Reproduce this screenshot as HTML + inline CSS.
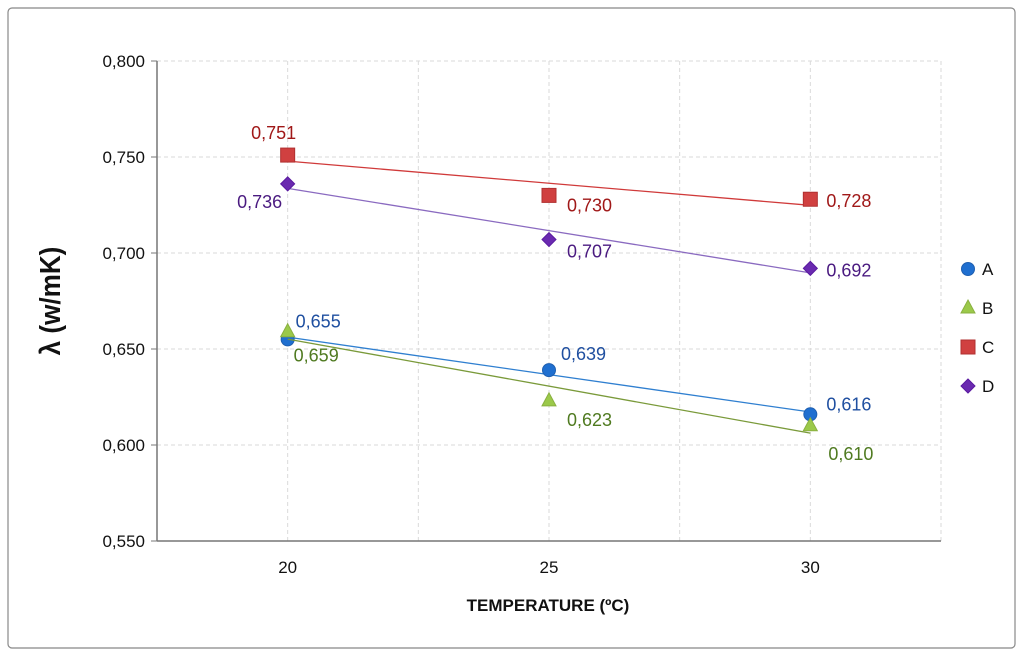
<!DOCTYPE html>
<html><head><meta charset="utf-8"><style>
body{margin:0;background:#fff;width:1024px;height:657px;overflow:hidden}
svg{font-family:"Liberation Sans",sans-serif}
</style></head><body>
<svg id="chart" width="1024" height="657">
<rect x="8" y="8" width="1007" height="640" rx="4" fill="#fff" stroke="#888" stroke-width="1.2"/>
<g id="grid"></g><g id="axes"></g><g id="series"></g><g id="legend"></g>
<text x="548" y="611" text-anchor="middle" font-size="17" font-weight="bold" fill="#111">TEMPERATURE (ºC)</text>
<text transform="translate(60,301) rotate(-90) scale(0.9,1)" text-anchor="middle" font-size="29" font-weight="bold" fill="#111">λ (w/mK)</text>
</svg>
<script>
const temps=[20,25,30];
const seriesNames=["A","B","C","D"];
const valuesA=[0.655,0.639,0.616];
const valuesB=[0.659,0.623,0.610];
const valuesC=[0.751,0.730,0.728];
const valuesD=[0.736,0.707,0.692];
const yTicks=[0.55,0.6,0.65,0.7,0.75,0.8];
const xTicks=[20,25,30];
const xGrid=[17.5,20,22.5,25,27.5,30,32.5];
const NS="http://www.w3.org/2000/svg";
const L=157,R=941,T=61,B=541;
const xs=v=>L+(v-17.5)/15*(R-L);
const ys=v=>B-(v-0.55)/0.25*(B-T);
function mk(tag,at,parent){const e=document.createElementNS(NS,tag);for(const k in at)e.setAttribute(k,at[k]);parent.appendChild(e);return e;}
const grid=document.getElementById('grid'),axes=document.getElementById('axes'),ser=document.getElementById('series'),leg=document.getElementById('legend');
yTicks.forEach(t=>{
 if(t>0.55){const g=mk('line',{x1:L,x2:R,y1:ys(t),y2:ys(t),stroke:'#dadada','stroke-dasharray':'4,3'},grid);
 }
 const tk=mk('line',{x1:L-6,x2:L,y1:ys(t),y2:ys(t),stroke:'#777'},axes);
 
 const tx=mk('text',{x:L-12,y:ys(t)+6,'text-anchor':'end','font-size':17,fill:'#111'},axes);
 tx.textContent=t.toFixed(3).replace('.',',');
 
});
xGrid.forEach(v=>{if(v>17.5){const g=mk('line',{x1:xs(v),x2:xs(v),y1:T,y2:B,stroke:'#dadada','stroke-dasharray':'4,3'},grid);
 }});
xTicks.forEach(v=>{const tx=mk('text',{x:xs(v),y:B+32,'text-anchor':'middle','font-size':17,fill:'#111'},axes);
 tx.textContent=v;});
let a=mk('line',{x1:L,x2:L,y1:T,y2:B,stroke:'#777','stroke-width':1.5},axes);

a=mk('line',{x1:L,x2:R,y1:B,y2:B,stroke:'#777','stroke-width':1.5},axes);

const conf=[
 {v:valuesA,fill:'#1f6fd0',stroke:'#1f5fb0',line:'#2f7fd0',lab:'#1f4fa0',shape:'circle',off:[[8,-12,'start'],[12,-10,'start'],[16,-4,'start']]},
 {v:valuesB,fill:'#9bc94a',stroke:'#8ab040',line:'#7a9a3a',lab:'#4f7a20',shape:'tri',off:[[6,30,'start'],[18,25,'start'],[18,34,'start']]},
 {v:valuesC,fill:'#d04040',stroke:'#b03030',line:'#d03a3a',lab:'#a01818',shape:'sq',off:[[-14,-16,'middle'],[18,16,'start'],[16,8,'start']]},
 {v:valuesD,fill:'#6a2ab0',stroke:'#5a1aa0',line:'#8a6ac0',lab:'#4a1a80',shape:'dia',off:[[-28,24,'middle'],[18,18,'start'],[16,8,'start']]}];
conf.forEach((c,si)=>{
 const n=temps.length,mx=temps.reduce((s,x)=>s+x,0)/n,my=c.v.reduce((s,x)=>s+x,0)/n;
 let sxy=0,sxx=0;temps.forEach((x,i)=>{sxy+=(x-mx)*(c.v[i]-my);sxx+=(x-mx)*(x-mx);});
 const sl=sxy/sxx,ic=my-sl*mx;
 const tl=mk('line',{x1:xs(temps[0]),y1:ys(ic+sl*temps[0]),x2:xs(temps[n-1]),y2:ys(ic+sl*temps[n-1]),stroke:c.line,'stroke-width':1.3},ser);
 
 temps.forEach((t,i)=>{
  const x=xs(t),y=ys(c.v[i]);let m;
  if(c.shape==='circle')m=mk('circle',{cx:x,cy:y,r:6.5},ser);
  else if(c.shape==='sq')m=mk('rect',{x:x-7,y:y-7,width:14,height:14},ser);
  else if(c.shape==='tri')m=mk('polygon',{points:`${x},${y-8} ${x+7},${y+5} ${x-7},${y+5}`},ser);
  else m=mk('polygon',{points:`${x},${y-7} ${x+7},${y} ${x},${y+7} ${x-7},${y}`},ser);
  m.setAttribute('fill',c.fill);m.setAttribute('stroke',c.stroke);
  
  const o=c.off[i];const tx=mk('text',{x:x+o[0],y:y+o[1],'text-anchor':o[2],'font-size':18,fill:c.lab},ser);
  tx.textContent=c.v[i].toFixed(3).replace('.',',');
  
 });
 const ly=269+si*39,lx=968;let m;
 if(c.shape==='circle')m=mk('circle',{cx:lx,cy:ly,r:6.5},leg);
 else if(c.shape==='sq')m=mk('rect',{x:lx-7,y:ly-7,width:14,height:14},leg);
 else if(c.shape==='tri')m=mk('polygon',{points:`${lx},${ly-8} ${lx+7},${ly+5} ${lx-7},${ly+5}`},leg);
 else m=mk('polygon',{points:`${lx},${ly-7} ${lx+7},${ly} ${lx},${ly+7} ${lx-7},${ly}`},leg);
 m.setAttribute('fill',c.fill);m.setAttribute('stroke',c.stroke);
 
 const lt=mk('text',{x:lx+14,y:ly+6,'font-size':17,fill:'#111'},leg);lt.textContent=seriesNames[si];
 
});
</script>
</body></html>
